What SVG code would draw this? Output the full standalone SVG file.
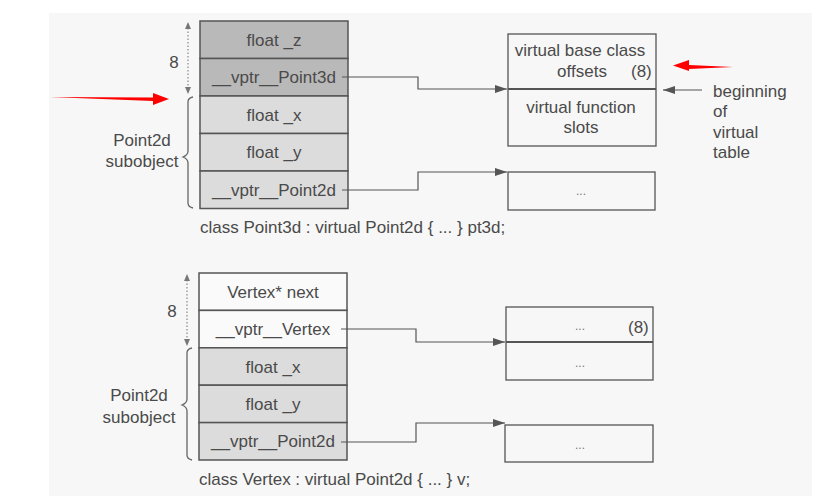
<svg xmlns="http://www.w3.org/2000/svg" width="832" height="496" viewBox="0 0 832 496">
<defs>
<style>
text{font-family:"Liberation Sans",Arial,sans-serif;font-size:17px;fill:#4a4a4a}
.c{text-anchor:middle}
.dark{fill:#b9b9b9;stroke:#555;stroke-width:1.5}
.light{fill:#dcdcdc;stroke:#555;stroke-width:1.5}
.white{fill:#fafafa;stroke:#555;stroke-width:1.5}
.vt{fill:none;stroke:#555;stroke-width:1.3}
.conn{fill:none;stroke:#555;stroke-width:1.2}
.dot{fill:none;stroke:#888;stroke-width:1.2;stroke-dasharray:1.5 2}
.brace{fill:none;stroke:#666;stroke-width:1.3}
.dots{font-size:12px;fill:#777}
</style>
<marker id="ah" viewBox="0 0 12 8" refX="12" refY="4" markerWidth="12" markerHeight="8" markerUnits="userSpaceOnUse" orient="auto">
<path d="M0,0 L12,4 L0,8 Z" fill="#555"/>
</marker>
<marker id="sh" viewBox="0 0 6 6" refX="6" refY="3" markerWidth="6" markerHeight="6" markerUnits="userSpaceOnUse" orient="auto">
<path d="M0,0 L6,3 L0,6 Z" fill="#777"/>
</marker>
</defs>
<rect x="49" y="13" width="763" height="483" fill="#f7f7f7"/>

<!-- Top object: Point3d -->
<g id="pt3d">
<rect class="dark" x="200" y="21" width="148" height="37.5"/>
<rect class="dark" x="200" y="58.5" width="148" height="37.5"/>
<rect class="light" x="200" y="96" width="148" height="37.5"/>
<rect class="light" x="200" y="133.5" width="148" height="37.5"/>
<rect class="light" x="200" y="171" width="148" height="37.5"/>
<text class="c" x="274" y="45.5">float _z</text>
<text class="c" x="274" y="83">__vptr__Point3d</text>
<text class="c" x="274" y="120.5">float _x</text>
<text class="c" x="274" y="158">float _y</text>
<text class="c" x="274" y="195.5">__vptr__Point2d</text>
</g>
<g id="pt3d-offset">
<line class="dot" x1="188" y1="28" x2="188" y2="87"/>
<path d="M188,22 L191,29 L185,29 Z" fill="#777"/>
<path d="M188,94 L191,87 L185,87 Z" fill="#777"/>
<text class="c" x="174" y="68">8</text>
</g>
<g id="pt3d-brace">
<path class="brace" d="M193,97 Q188,98 188,102 L188,151 Q188,155 183,157 Q188,159 188,163 L188,203 Q188,207 193,208"/>
<text class="c" x="142" y="146">Point2d</text>
<text class="c" x="142" y="167">subobject</text>
</g>
<text x="200" y="233">class Point3d : virtual Point2d { ... } pt3d;</text>

<!-- Top vtables -->
<g id="vtbl1">
<rect class="vt" x="508" y="34" width="148" height="112"/>
<line x1="508" y1="89" x2="656" y2="89" stroke="#555" stroke-width="2"/>
<text class="c" x="580" y="56">virtual base class</text>
<text class="c" x="582" y="77">offsets</text>
<text x="631" y="77">(8)</text>
<text class="c" x="581" y="113">virtual function</text>
<text class="c" x="581" y="133">slots</text>
</g>
<g id="vtbl2">
<rect class="vt" x="508" y="172" width="147" height="38"/>
<text class="c dots" x="581" y="195">...</text>
</g>
<g id="begin-label">
<text x="713" y="97">beginning</text>
<text x="713" y="117">of</text>
<text x="713" y="138">virtual</text>
<text x="713" y="158">table</text>
</g>

<!-- Bottom object: Vertex -->
<g id="vertex">
<rect class="white" x="199" y="273" width="148" height="37.4"/>
<rect class="white" x="199" y="310.4" width="148" height="37.4"/>
<rect class="light" x="199" y="347.8" width="148" height="37.4"/>
<rect class="light" x="199" y="385.2" width="148" height="37.4"/>
<rect class="light" x="199" y="422.6" width="148" height="37.4"/>
<text class="c" x="273" y="297.5">Vertex* next</text>
<text class="c" x="273" y="335">__vptr__Vertex</text>
<text class="c" x="273" y="372.5">float _x</text>
<text class="c" x="273" y="410">float _y</text>
<text class="c" x="273" y="447">__vptr__Point2d</text>
</g>
<g id="vertex-offset">
<line class="dot" x1="187" y1="280" x2="187" y2="339"/>
<path d="M187,274 L190,281 L184,281 Z" fill="#777"/>
<path d="M187,346 L190,339 L184,339 Z" fill="#777"/>
<text class="c" x="172" y="317">8</text>
</g>
<g id="vertex-brace">
<path class="brace" d="M192,348 Q187,349 187,353 L187,399 Q187,403 182,405 Q187,407 187,411 L187,455 Q187,459 192,460"/>
<text class="c" x="139" y="401">Point2d</text>
<text class="c" x="139" y="423">subobject</text>
</g>
<text x="199" y="485">class Vertex : virtual Point2d { ... } v;</text>

<g id="vtbl3">
<rect class="vt" x="506" y="307" width="147" height="73"/>
<line x1="506" y1="342" x2="653" y2="342" stroke="#555" stroke-width="2"/>
<text class="c dots" x="580" y="330">...</text>
<text x="628" y="333">(8)</text>
<text class="c dots" x="580" y="367">...</text>
</g>
<g id="vtbl4">
<rect class="vt" x="505" y="425" width="148" height="37"/>
<text class="c dots" x="580" y="449">...</text>
</g>

<!-- Connectors -->
<g id="connectors">
<path class="conn" d="M342,77 H418 V89 H507" marker-end="url(#ah)"/>
<path class="conn" d="M342,190 H418 V172 H507" marker-end="url(#ah)"/>
<path class="conn" d="M341,329 H416 V342 H505" marker-end="url(#ah)"/>
<path class="conn" d="M341,442 H416 V423 H505" marker-end="url(#ah)"/>
<path class="conn" d="M702,90 H663" marker-end="url(#ah)"/>
<path d="M50,97 L153,97.5 L153,93 L169,99 L153,105 L153,101 Z" fill="#ff0000"/>
<path d="M733,67 L689,65 L689,60 L673,65.5 L689,71 L689,69 Z" fill="#ff0000"/>
</g>
</svg>
